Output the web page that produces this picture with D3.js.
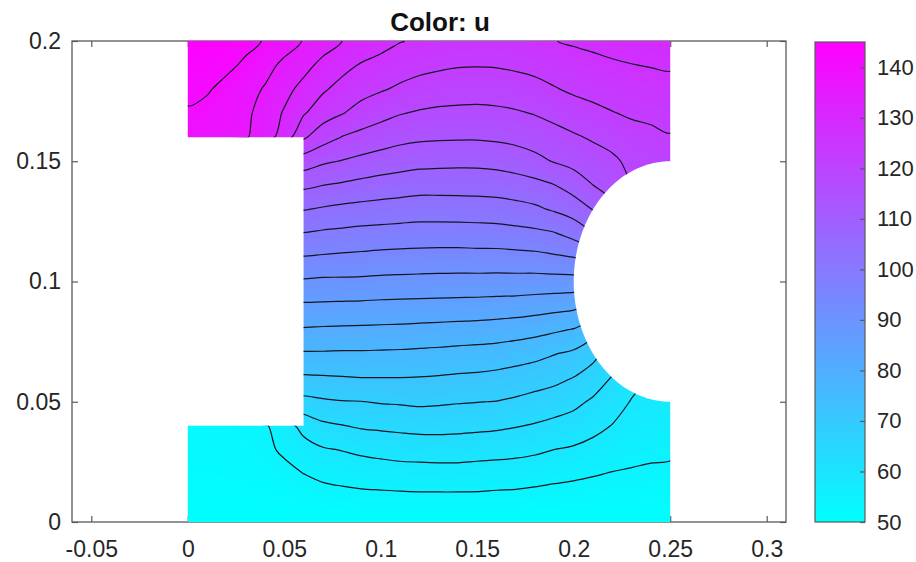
<!DOCTYPE html>
<html>
<head>
<meta charset="utf-8">
<script src="https://cdn.jsdelivr.net/npm/d3@7"></script>
<style>
  body { margin: 0; background: #fff; }
  svg { display: block; font-family: "Liberation Sans", Arial, Helvetica, sans-serif; }
</style>
</head>
<body>
<svg id="chart" width="916" height="562"></svg>
<script>
// node positions of the solution grid
const xNodes = [0, 0.01, 0.02, 0.03, 0.04, 0.05, 0.06, 0.07, 0.08, 0.09, 0.1, 0.11, 0.12,
                0.13, 0.14, 0.15, 0.16, 0.17, 0.18, 0.19, 0.2, 0.21, 0.22, 0.23, 0.24, 0.25];
const yNodes = [0.2, 0.19, 0.18, 0.17, 0.16, 0.15, 0.14, 0.13, 0.12, 0.11, 0.1,
                0.09, 0.08, 0.07, 0.06, 0.05, 0.04, 0.03, 0.02, 0.01, 0];

// u at each node, one row per y (top row first).
// nodes inside the notch / the hole just carry the nearest edge value
const uRows = [
  [145.0, 144.1, 143.0, 141.6, 140.2, 137.9, 135.7, 133.6, 131.4, 130.1, 128.8, 127.1, 126.2, 125.5, 125.1, 124.9, 124.9, 125.1, 125.8, 126.8, 127.4, 127.8, 128.3, 128.7, 128.9, 129.2],
  [143.2, 142.5, 141.4, 139.8, 137.4, 135.0, 132.9, 130.2, 128.3, 126.5, 125.2, 124.4, 123.6, 123.1, 122.7, 122.6, 122.7, 123.1, 123.6, 124.5, 125.2, 125.9, 126.4, 126.8, 127.1, 127.4],
  [141.6, 140.9, 139.3, 137.5, 135.6, 132.8, 130.1, 127.5, 125.4, 123.9, 122.8, 121.7, 120.8, 120.2, 119.8, 119.7, 119.9, 120.4, 121.1, 122.1, 123.1, 123.7, 124.3, 124.9, 125.2, 125.5],
  [140.0, 139.3, 138.2, 136.9, 134.1, 131.0, 127.3, 124.4, 122.6, 120.7, 119.3, 118.1, 117.4, 117.0, 116.9, 116.8, 117.0, 117.4, 118.1, 119.1, 120.3, 121.3, 122.2, 122.9, 123.3, 123.8],
  [138.4, 138.0, 137.3, 136.4, 133.4, 129.5, 123.0, 119.8, 117.7, 116.5, 115.5, 114.6, 114.1, 113.9, 113.8, 113.8, 114.1, 114.6, 115.4, 116.3, 117.3, 118.4, 119.5, 120.9, 121.4, 122.1],
  [115.6, 115.6, 115.6, 115.6, 115.6, 115.6, 115.6, 114.0, 113.1, 112.2, 111.4, 110.7, 110.2, 110.0, 109.9, 109.9, 110.2, 110.9, 112.1, 113.6, 114.7, 115.8, 117.0, 119.0, 119.6, 120.6],
  [109.7, 109.7, 109.7, 109.7, 109.7, 109.7, 109.7, 108.8, 108.2, 107.5, 106.9, 106.5, 106.0, 106.0, 106.0, 106.1, 106.3, 106.8, 107.5, 108.7, 110.8, 113.3, 115.0, 117.9, 119.2, 120.6],
  [104.5, 104.5, 104.5, 104.5, 104.5, 104.5, 104.5, 103.8, 103.2, 102.8, 102.5, 102.2, 101.9, 101.9, 102.0, 102.1, 102.3, 102.8, 103.5, 104.8, 106.3, 109.0, 112.2, 116.0, 118.8, 120.6],
  [99.6, 99.6, 99.6, 99.6, 99.6, 99.6, 99.6, 99.1, 98.8, 98.4, 98.2, 98.0, 97.8, 97.8, 97.8, 97.9, 98.0, 98.4, 98.8, 99.5, 101.4, 104.2, 107.5, 112.2, 117.9, 120.6],
  [95.0, 95.0, 95.0, 95.0, 95.0, 95.0, 95.0, 94.7, 94.4, 94.2, 93.9, 93.7, 93.6, 93.5, 93.5, 93.6, 93.6, 93.8, 94.0, 94.6, 95.2, 96.7, 99.3, 104.2, 112.2, 120.6],
  [90.2, 90.2, 90.2, 90.2, 90.2, 90.2, 90.2, 89.9, 89.9, 89.8, 89.6, 89.5, 89.4, 89.3, 89.2, 89.2, 89.1, 89.1, 89.0, 89.0, 89.0, 89.1, 89.1, 89.1, 89.1, 89.1],
  [85.6, 85.6, 85.6, 85.6, 85.6, 85.6, 85.6, 85.5, 85.4, 85.3, 85.1, 85.0, 84.9, 84.8, 84.7, 84.6, 84.4, 84.2, 83.8, 83.3, 82.8, 81.1, 78.9, 74.4, 66.2, 57.7],
  [81.3, 81.3, 81.3, 81.3, 81.3, 81.3, 81.3, 81.1, 81.0, 80.9, 80.8, 80.7, 80.5, 80.3, 80.1, 79.9, 79.6, 79.2, 78.6, 77.8, 76.9, 74.4, 70.9, 66.2, 60.5, 57.7],
  [76.7, 76.7, 76.7, 76.7, 76.7, 76.7, 76.7, 76.7, 76.6, 76.6, 76.5, 76.4, 76.2, 76.0, 75.7, 75.5, 75.2, 74.6, 73.9, 72.8, 71.8, 69.4, 66.2, 62.4, 58.9, 57.7],
  [72.0, 72.0, 72.0, 72.0, 72.0, 72.0, 72.0, 72.2, 72.4, 72.6, 72.6, 72.6, 72.5, 72.3, 72.0, 71.8, 71.4, 70.8, 70.1, 69.3, 68.0, 66.1, 63.3, 60.5, 58.6, 57.7],
  [66.8, 66.8, 66.8, 66.8, 66.8, 66.8, 66.8, 67.5, 67.9, 68.0, 68.4, 68.6, 68.9, 68.7, 68.4, 68.2, 68.0, 67.4, 66.6, 65.8, 64.7, 62.9, 61.0, 58.8, 58.4, 57.7],
  [52.3, 52.4, 52.7, 53.3, 54.0, 57.0, 60.6, 62.7, 63.4, 64.1, 64.4, 64.7, 65.0, 65.0, 64.8, 64.6, 64.3, 63.8, 63.2, 62.4, 61.6, 60.4, 58.9, 57.2, 56.8, 56.4],
  [52.0, 52.1, 52.4, 52.8, 53.6, 55.2, 57.1, 58.6, 59.2, 59.9, 60.4, 60.8, 61.0, 61.1, 61.1, 60.8, 60.6, 60.3, 59.8, 59.0, 58.5, 57.6, 56.6, 55.7, 55.4, 55.2],
  [51.6, 51.6, 51.8, 52.0, 52.5, 53.3, 54.5, 55.5, 56.1, 56.5, 56.8, 57.1, 57.2, 57.3, 57.3, 57.1, 56.9, 56.7, 56.3, 55.7, 55.3, 54.8, 54.3, 54.1, 53.8, 53.7],
  [50.9, 50.9, 51.0, 51.1, 51.4, 51.7, 52.3, 52.7, 53.0, 53.3, 53.4, 53.5, 53.6, 53.6, 53.6, 53.6, 53.4, 53.3, 53.0, 52.8, 52.6, 52.4, 52.2, 52.0, 51.9, 51.9],
  [50.0, 50.0, 50.0, 50.0, 50.0, 50.0, 50.0, 50.0, 50.0, 50.0, 50.0, 50.0, 50.0, 50.0, 50.0, 50.0, 50.0, 50.0, 50.0, 50.0, 50.0, 50.0, 50.0, 50.0, 50.0, 50.0]
];

// contour levels (20 equal steps between 50 and 145)
const levels = [54.52, 59.05, 63.57, 68.10, 72.62, 77.14, 81.67, 86.19, 90.71, 95.24,
                99.76, 104.29, 108.81, 113.33, 117.86, 122.38, 126.90, 131.43, 135.95, 140.48];

const xTicks = [-0.05, 0, 0.05, 0.1, 0.15, 0.2, 0.25, 0.3];
const yTicks = [0, 0.05, 0.1, 0.15, 0.2];
const cbTicks = [50, 60, 70, 80, 90, 100, 110, 120, 130, 140];
const uRange = [50, 145];

// geometry: plate with a notch on the left and a half hole on the right
const notch = {x: 0.06, y0: 0.04, y1: 0.16};
const hole = {cx: 0.25, cy: 0.1, r: 0.05};

const svg = d3.select("#chart");
const x = d3.scaleLinear().domain([-0.06, 0.31]).range([72, 786]);
const y = d3.scaleLinear().domain([0, 0.2]).range([522, 41]);
const color = d3.scaleLinear().domain(uRange).range(["#00ffff", "#ff00ff"]).clamp(true);
const fmt = d => String(+d.toFixed(2));

const axisColor = "#5a5a5a";
const textColor = "#262626";

// axes box + inward ticks (drawn first, the patch sits on top)
svg.append("rect")
  .attr("x", x(-0.06)).attr("y", y(0.2))
  .attr("width", x(0.31) - x(-0.06)).attr("height", y(0) - y(0.2))
  .attr("fill", "none").attr("stroke", axisColor).attr("stroke-width", 1.3);

function styleAxis(size) {
  return g => {
    g.select(".domain").remove();
    g.selectAll(".tick line").attr("stroke", axisColor).attr("stroke-width", 1.2);
    g.selectAll(".tick text").attr("fill", textColor).style("font-size", size + "px")
      .style("font-family", "'Liberation Sans', Arial, sans-serif");
  };
}
svg.append("g").attr("transform", `translate(0,${y(0)})`)
  .call(d3.axisBottom(x).tickValues(xTicks).tickFormat(fmt).tickSize(-6).tickPadding(18.5))
  .call(styleAxis(23));
svg.append("g").attr("transform", `translate(0,${y(0.2)})`)
  .call(d3.axisTop(x).tickValues(xTicks).tickFormat("").tickSize(-6))
  .call(styleAxis(23));
svg.append("g").attr("transform", `translate(${x(-0.06)},0)`)
  .call(d3.axisLeft(y).tickValues(yTicks).tickFormat(fmt).tickSize(-6).tickPadding(11))
  .call(styleAxis(23));
svg.append("g").attr("transform", `translate(${x(0.31)},0)`)
  .call(d3.axisRight(y).tickValues(yTicks).tickFormat("").tickSize(-6))
  .call(styleAxis(23));

// outline of the domain
const outline = [[0, 0], [0.25, 0], [hole.cx, hole.cy - hole.r]];
for (let k = 1; k < 90; k++) {
  const a = -Math.PI / 2 - k * Math.PI / 90;
  outline.push([hole.cx + hole.r * Math.cos(a), hole.cy + hole.r * Math.sin(a)]);
}
outline.push([hole.cx, hole.cy + hole.r], [0.25, 0.2], [0, 0.2], [0, notch.y1],
             [notch.x, notch.y1], [notch.x, notch.y0], [0, notch.y0]);
const outlinePath = d3.line().x(d => x(d[0])).y(d => y(d[1]))(outline) + "Z";

svg.append("clipPath").attr("id", "dom").append("path").attr("d", outlinePath);

// bilinear lookup in the node grid
const xStep = xNodes[1] - xNodes[0], yStep = yNodes[0] - yNodes[1];
const nc = xNodes.length, nr = yNodes.length;
function fieldAt(xv, yv) {
  const gc = Math.max(0, Math.min(nc - 1.0001, (xv - xNodes[0]) / xStep));
  const gr = Math.max(0, Math.min(nr - 1.0001, (yNodes[0] - yv) / yStep));
  const c = Math.floor(gc), r = Math.floor(gr), fc = gc - c, fr = gr - r;
  const top = uRows[r][c] * (1 - fc) + uRows[r][c + 1] * fc;
  const bot = uRows[r + 1][c] * (1 - fc) + uRows[r + 1][c + 1] * fc;
  return top * (1 - fr) + bot * fr;
}

// colour patch as an image
const px0 = Math.floor(x(0)) - 1, px1 = Math.ceil(x(0.25)) + 1;
const py0 = Math.floor(y(0.2)) - 1, py1 = Math.ceil(y(0)) + 1;
const w = px1 - px0, h = py1 - py0;
const cv = document.createElement("canvas");
cv.width = w; cv.height = h;
const ctx = cv.getContext("2d");
const img = ctx.createImageData(w, h);
for (let r = 0; r < h; r++) {
  const yv = y.invert(py0 + r + 0.5);
  for (let c = 0; c < w; c++) {
    const col = d3.rgb(color(fieldAt(x.invert(px0 + c + 0.5), yv)));
    const i = (r * w + c) * 4;
    img.data[i] = col.r; img.data[i + 1] = col.g; img.data[i + 2] = col.b; img.data[i + 3] = 255;
  }
}
ctx.putImageData(img, 0, 0);

svg.append("image")
  .attr("x", px0).attr("y", py0).attr("width", w).attr("height", h)
  .attr("preserveAspectRatio", "none")
  .attr("href", cv.toDataURL())
  .attr("clip-path", "url(#dom)");

// contour lines: d3.contours rings, drawn as smooth closed curves
const contours = d3.contours().size([nc, nr]).thresholds(levels)(uRows.flat());
const gridToScreen = p => [x(xNodes[0] + (p[0] - 0.5) * xStep), y(yNodes[0] - (p[1] - 0.5) * yStep)];
const ringLine = d3.line().curve(d3.curveCatmullRomClosed.alpha(0.5));
const rings = [];
contours.forEach(c => c.coordinates.forEach(poly => poly.forEach(ring => {
  rings.push(ring.slice(0, -1).map(gridToScreen));
})));
svg.append("g").attr("clip-path", "url(#dom)")
  .selectAll("path").data(rings).join("path")
  .attr("d", ringLine)
  .attr("fill", "none").attr("stroke", "#15151f").attr("stroke-width", 1.2);

// colorbar
const cb = {x: 815, w: 50};
const cbScale = d3.scaleLinear().domain(uRange).range([522, 42]);
const grad = svg.append("defs").append("linearGradient").attr("id", "cbgrad")
  .attr("x1", 0).attr("y1", 1).attr("x2", 0).attr("y2", 0);
grad.append("stop").attr("offset", 0).attr("stop-color", color(uRange[0]));
grad.append("stop").attr("offset", 1).attr("stop-color", color(uRange[1]));
svg.append("rect")
  .attr("x", cb.x).attr("y", cbScale(uRange[1]))
  .attr("width", cb.w).attr("height", cbScale(uRange[0]) - cbScale(uRange[1]))
  .attr("fill", "url(#cbgrad)").attr("stroke", axisColor).attr("stroke-width", 1.2);
svg.append("g").attr("transform", `translate(${cb.x + cb.w},0)`)
  .call(d3.axisRight(cbScale).tickValues(cbTicks).tickSize(-5).tickPadding(12))
  .call(styleAxis(22));

// title
svg.append("text")
  .attr("x", 440).attr("y", 31)
  .attr("text-anchor", "middle")
  .style("font-size", "26px").style("font-weight", "bold")
  .attr("fill", "#111")
  .text("Color: u");
</script>
</body>
</html>
